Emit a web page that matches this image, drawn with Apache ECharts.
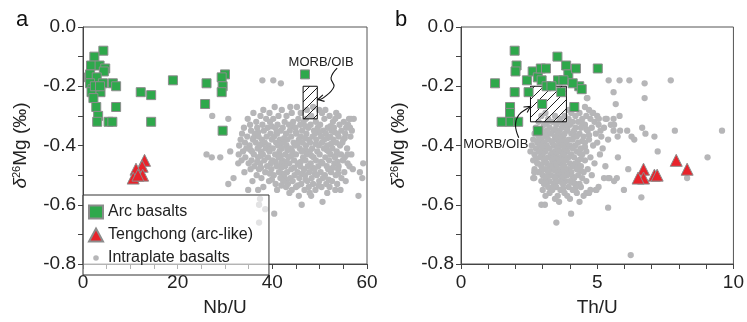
<!DOCTYPE html>
<html>
<head>
<meta charset="utf-8">
<script src="https://cdn.jsdelivr.net/npm/echarts@6/dist/echarts.min.js"></script>
<style>
  html, body { margin: 0; padding: 0; background: #fff; }
  #chart { width: 747px; height: 322px; }
</style>
</head>
<body>
<div id="chart"></div>
<script>
// ---- panel a: Nb/U vs d26Mg ----
const arcA = [
  [4.3,-0.08],[2.4,-0.10],[1.7,-0.13],[3.5,-0.13],[4.7,-0.14],[4.4,-0.15],[1.3,-0.17],[1.5,-0.16],
  [2.9,-0.17],[1.5,-0.19],[4.2,-0.19],[6.3,-0.19],[7.0,-0.20],[2.0,-0.21],[1.8,-0.22],[3.7,-0.22],
  [2.2,-0.24],[2.8,-0.27],[7.0,-0.27],[3.2,-0.30],[3.0,-0.32],[5.4,-0.32],[6.2,-0.32],[2.5,-0.20],
  [3.6,-0.20],[12.2,-0.22],[14.4,-0.23],[19.0,-0.18],[14.4,-0.32],[26.1,-0.19],[25.8,-0.26],
  [30.0,-0.16],[29.3,-0.17],[29.5,-0.20],[29.3,-0.22],[29.5,-0.35],[46.9,-0.16]
];
const tengA = [[13.0,-0.45],[12.5,-0.47],[11.2,-0.48],[12.6,-0.50],[10.6,-0.51],[11.6,-0.50]];
// rows of intraplate basalts: [d26Mg, [Nb/U values]]
const intraRowsA = [
  [-0.27,[40.5,43.8,45.2,48.6]],
  [-0.28,[38.1,42.0,47.3,49.9,51.2]],
  [-0.29,[36.0,39.4,44.1,46.0,50.5,53.5]],
  [-0.30,[37.5,41.3,43.0,48.2,52.1,54.0]],
  [-0.31,[34.8,38.7,40.2,45.5,47.1,51.0,53.3,56.2,57.2]],
  [-0.32,[36.6,39.5,42.6,44.4,46.6,49.2,52.8,55.1]],
  [-0.33,[35.3,37.9,41.1,43.5,45.9,48.1,50.1,54.2,56.0]],
  [-0.335,[39.8,44.3,47.0,52.3]],
  [-0.34,[34.0,36.8,39.0,40.6,42.2,44.9,47.6,49.6,51.7,53.0,55.6]],
  [-0.35,[35.5,38.2,41.8,43.7,46.3,48.8,50.8,52.5,54.6,56.8]],
  [-0.355,[37.0,40.9,45.0,49.9,53.1]],
  [-0.36,[33.6,36.3,39.6,41.0,42.9,45.1,47.2,49.0,51.3,53.8,55.4]],
  [-0.37,[34.7,37.1,38.8,40.4,44.0,46.0,48.5,50.3,52.2,54.0,56.5]],
  [-0.375,[36.0,42.5,46.9,51.7,55.3]],
  [-0.38,[33.3,35.9,37.8,39.9,41.6,43.2,45.6,47.7,49.3,51.0,52.9,55.0]],
  [-0.39,[34.2,36.5,38.4,40.8,42.4,44.5,46.4,48.0,50.5,53.5,54.8]],
  [-0.395,[37.8,41.7,45.3,49.2,52.4]],
  [-0.40,[33.0,35.2,37.3,39.2,41.2,43.0,44.8,47.1,49.8,51.6,54.3]],
  [-0.41,[34.5,36.9,38.6,40.1,42.0,43.9,45.8,48.4,50.9,52.7,55.8]],
  [-0.415,[35.4,39.3,43.2,47.0,51.5]],
  [-0.42,[33.8,35.7,37.6,39.4,41.5,44.2,46.2,47.9,49.5,51.9,53.6]],
  [-0.43,[32.9,36.1,38.0,40.6,42.8,45.0,47.3,50.0,52.3,54.5,56.7]],
  [-0.435,[37.5,41.8,44.0,48.3,53.4]],
  [-0.44,[34.3,37.0,39.1,41.3,43.4,46.5,48.7,51.2,53.2,55.3]],
  [-0.45,[33.5,35.6,38.3,40.0,42.1,44.6,47.0,49.2,52.0,54.9]],
  [-0.455,[36.8,40.7,43.0,46.0,50.3,53.8]],
  [-0.46,[35.0,37.4,39.7,41.9,43.6,45.4,48.1,50.6,53.1,55.9]],
  [-0.47,[36.2,38.9,40.9,42.7,45.9,47.5,49.7,51.5,54.0,56.3]],
  [-0.475,[37.6,41.9,44.6,48.5,52.8]],
  [-0.48,[35.4,37.2,39.8,44.0,46.7,48.9,51.8,53.9,57.0]],
  [-0.49,[34.1,38.5,41.4,43.1,45.3,47.8,50.2,52.4,55.2]],
  [-0.495,[39.5,42.0,46.3,49.0,53.9]],
  [-0.50,[36.7,40.3,42.5,44.7,46.9,49.4,51.1,53.4]],
  [-0.51,[37.7,41.7,43.8,45.7,48.3,50.7,54.6]],
  [-0.515,[39.9,42.9,47.0,51.9]],
  [-0.52,[35.8,39.3,42.3,44.3,47.4,49.9,52.6,55.5]],
  [-0.53,[40.7,43.3,46.1,48.6,51.4,53.7]],
  [-0.535,[41.9,45.4,49.8]],
  [-0.54,[38.1,42.9,45.0,47.7,50.4,52.1]],
  [-0.55,[41.0,44.1,46.8,49.1,53.3,54.4]],
  [-0.56,[43.6,47.9,51.6]],
  [-0.57,[45.6,48.2]],
  [-0.59,[50.6]]
];
const intraExtraA = [
  [37.9,-0.18],[40.2,-0.18],[41.8,-0.19],[27.3,-0.30],[30.7,-0.31],[26.1,-0.43],[27.2,-0.44],
  [29.0,-0.44],[31.1,-0.42],[30.7,-0.53],[31.8,-0.51],[32.8,-0.46],[34.9,-0.55],[37.0,-0.55],
  [37.4,-0.58],[37.2,-0.60],[38.5,-0.615],[40.4,-0.63],[37.2,-0.66],[46.2,-0.60],[58.2,-0.57],
  [58.5,-0.49],[59.0,-0.51],[59.2,-0.46],[55.9,-0.43],[56.4,-0.34],[56.6,-0.31]
];
const morbA = [[46.5,-0.20],[49.5,-0.31]];

// ---- panel b: Th/U vs d26Mg ----
const arcB = [
  [1.97,-0.08],[1.25,-0.19],[2.04,-0.13],[2.00,-0.15],[1.97,-0.22],[1.80,-0.27],[1.80,-0.29],
  [1.49,-0.32],[1.82,-0.32],[2.10,-0.32],[2.82,-0.35],[2.42,-0.18],[2.63,-0.15],[2.82,-0.17],
  [2.93,-0.14],[3.12,-0.14],[2.96,-0.18],[2.48,-0.22],[2.98,-0.26],[3.54,-0.10],[3.56,-0.18],
  [3.86,-0.13],[3.94,-0.16],[4.22,-0.14],[4.34,-0.20],[4.43,-0.21],[4.16,-0.27],[5.02,-0.14],
  [3.76,-0.18],[3.14,-0.20],[4.10,-0.19],[3.68,-0.22],[3.32,-0.20]
];
const tengB = [[6.7,-0.48],[6.7,-0.51],[6.5,-0.51],[7.1,-0.50],[7.2,-0.50],[7.9,-0.45],[8.3,-0.48]];
const intraRowsB = [
  [-0.24,[4.62]],
  [-0.27,[4.55]],
  [-0.28,[3.95,4.70]],
  [-0.29,[3.10,4.05,4.35,4.85]],
  [-0.30,[2.95,3.45,3.80,4.20,4.60,5.00]],
  [-0.31,[3.20,3.65,3.95,4.45,4.75,5.35]],
  [-0.32,[2.85,3.35,3.60,4.10,4.30,4.90]],
  [-0.325,[3.15,3.75,4.45]],
  [-0.33,[3.05,3.50,3.85,4.00,4.55,5.05,5.50]],
  [-0.34,[2.75,3.25,3.70,4.20,4.40,4.80,5.25]],
  [-0.345,[2.95,3.45,3.90,4.60]],
  [-0.35,[2.90,3.15,3.40,3.60,3.90,4.15,4.65,5.60]],
  [-0.36,[2.70,3.00,3.30,3.55,3.80,4.05,4.35,4.95]],
  [-0.365,[3.15,3.65,4.15,4.70]],
  [-0.37,[2.85,3.10,3.45,3.75,4.25,4.50,5.15,5.75]],
  [-0.38,[2.65,2.95,3.20,3.50,3.65,3.95,4.10,4.70,5.40]],
  [-0.385,[2.85,3.35,3.80,4.45]],
  [-0.39,[2.80,3.05,3.35,3.60,3.85,4.30,4.55,5.00]],
  [-0.40,[2.60,2.90,3.15,3.40,3.70,4.00,4.20,4.85]],
  [-0.405,[3.05,3.55,3.90,4.55]],
  [-0.41,[2.75,3.00,3.25,3.55,3.80,4.10,4.40,5.20]],
  [-0.42,[2.55,2.85,3.10,3.45,3.65,3.90,4.25,4.60]],
  [-0.425,[2.95,3.35,3.80,4.35]],
  [-0.43,[2.70,3.00,3.30,3.50,3.75,4.05,4.45,5.10]],
  [-0.44,[2.90,3.20,3.40,3.60,3.95,4.15,4.75]],
  [-0.445,[2.75,3.10,3.50,3.80,4.40]],
  [-0.45,[2.65,3.05,3.35,3.70,3.85,4.30,4.55]],
  [-0.46,[2.80,3.15,3.45,3.60,4.00,4.20,4.90]],
  [-0.465,[2.95,3.35,3.75,4.30]],
  [-0.47,[2.95,3.25,3.50,3.80,4.10,4.40,5.30]],
  [-0.48,[2.70,3.10,3.35,3.65,3.95,4.25,4.65]],
  [-0.485,[2.95,3.45,3.85,4.40]],
  [-0.49,[2.85,3.20,3.55,3.75,4.05,4.50]],
  [-0.50,[3.00,3.30,3.60,3.90,4.30,4.80]],
  [-0.505,[3.15,3.45,3.75,4.10]],
  [-0.51,[2.65,3.10,3.45,3.70,4.15,4.45,5.25,5.45]],
  [-0.52,[2.95,3.25,3.55,3.85,4.00,4.60]],
  [-0.525,[3.10,3.45,3.70,4.10]],
  [-0.53,[3.05,3.40,3.75,4.20,4.35]],
  [-0.54,[3.20,3.50,3.95,4.40,5.05]],
  [-0.545,[3.35,3.75,4.20]],
  [-0.55,[3.00,3.35,3.65,4.10,4.75,4.95]],
  [-0.56,[3.25,3.80,4.25,4.60]],
  [-0.57,[3.10,3.55,3.90,4.50]],
  [-0.58,[3.45,4.00]],
  [-0.59,[3.60,4.35]],
  [-0.60,[2.95,3.08]]
];
const intraExtraB = [
  [5.42,-0.18],[5.82,-0.18],[6.18,-0.18],[6.74,-0.19],[7.70,-0.18],[5.60,-0.22],[6.74,-0.24],
  [5.68,-0.26],[4.64,-0.24],[5.82,-0.30],[5.30,-0.31],[5.60,-0.31],[5.06,-0.31],[4.82,-0.29],
  [5.12,-0.35],[5.62,-0.33],[5.84,-0.35],[6.10,-0.35],[6.26,-0.37],[6.36,-0.38],[6.65,-0.34],
  [6.77,-0.36],[7.10,-0.37],[7.85,-0.35],[9.58,-0.35],[7.22,-0.42],[9.05,-0.44],[5.76,-0.44],
  [6.14,-0.48],[5.40,-0.51],[5.72,-0.51],[5.62,-0.52],[5.98,-0.55],[6.62,-0.575],[5.40,-0.61],
  [8.30,-0.51],[6.23,-0.77],[4.04,-0.63],[3.50,-0.66],[4.97,-0.55],[4.70,-0.56],[2.69,-0.49],
  [2.69,-0.51],[2.82,-0.46],[2.88,-0.42]
];
const morbB = [[2.55,-0.20],[3.87,-0.32]];

// tick labels
const yTicks = [0, -0.2, -0.4, -0.6, -0.8];
const xTicksA = [0, 20, 40, 60];
const xTicksB = [0, 5, 10];

// annotation anchors (data coords)
const labelA = [50.3, -0.119];
const curveA = [[53.7,-0.139],[52.4,-0.172],[53.0,-0.202],[50.6,-0.241]];
const tipA = [49.6, -0.245];
const labelB = [1.28, -0.396];
const curveB = [[2.12,-0.374],[2.0,-0.33],[2.12,-0.297],[2.45,-0.274]];
const tipB = [2.55, -0.268];

function flatten(rows, extra) {
  const out = [];
  rows.forEach(r => r[1].forEach(x => out.push([x, r[0]])));
  return out.concat(extra);
}
const intraA = flatten(intraRowsA, intraExtraA);
const intraB = flatten(intraRowsB, intraExtraB);

function hatch() {
  const c = document.createElement('canvas');
  c.width = 9; c.height = 9;
  const g = c.getContext('2d');
  g.strokeStyle = '#222';
  g.lineWidth = 1;
  g.beginPath();
  g.moveTo(0, 9); g.lineTo(9, 0);
  g.moveTo(-1, 1); g.lineTo(1, -1);
  g.moveTo(8, 10); g.lineTo(10, 8);
  g.stroke();
  return c;
}
const hatchFill = { image: hatch(), repeat: 'repeat' };

const font = 'Arial, "Liberation Sans", sans-serif';
const green = '#2ea84b';
const red = '#e8232b';
const grey = '#b6b6b8';
const edge = '#8c8c8c';

function near(list, v) {
  return list.some(t => Math.abs(t - v) < 1e-6);
}

function yAxisOf(idx) {
  return {
    gridIndex: idx, type: 'value', min: -0.8, max: 0, interval: 0.1,
    name: '{i|δ}{s|26}Mg (‰)', nameLocation: 'middle', nameGap: 52, nameRotate: 90,
    nameTextStyle: {
      fontSize: 19, color: '#222', fontFamily: font,
      rich: {
        i: { fontSize: 19, fontStyle: 'italic', fontFamily: font, color: '#222' },
        s: { fontSize: 11, fontFamily: font, color: '#222', padding: [0, 0, 9, 0] }
      }
    },
    axisLine: { show: true, onZero: false, lineStyle: { color: '#444', width: 1 } },
    axisTick: { show: true, length: 5, lineStyle: { color: '#444' } },
    axisLabel: {
      fontSize: 19, color: '#222', fontFamily: font, margin: 7,
      formatter: v => near(yTicks, v) ? v.toFixed(1) : ''
    },
    splitLine: { show: false }
  };
}

function xAxisOf(idx, max, interval, ticks, name) {
  return {
    gridIndex: idx, type: 'value', min: 0, max: max, interval: interval,
    name: name, nameLocation: 'middle', nameGap: 34,
    nameTextStyle: { fontSize: 19, color: '#222', fontFamily: font },
    axisLine: { show: true, onZero: false, lineStyle: { color: '#444', width: 1 } },
    axisTick: { show: true, length: 5, lineStyle: { color: '#444' } },
    axisLabel: {
      fontSize: 19, color: '#222', fontFamily: font, margin: 9,
      formatter: v => near(ticks, v) ? String(Math.round(v)) : ''
    },
    splitLine: { show: false }
  };
}

const greyDot = "image://data:image/svg+xml;utf8," + encodeURIComponent(
  "<svg xmlns='http://www.w3.org/2000/svg' width='14' height='14'><circle cx='7' cy='7' r='3' fill='" + grey + "'/></svg>");

function seriesFor(idx, arc, teng, intra, morb) {
  return [
    {
      name: 'Intraplate basalts', type: 'scatter', xAxisIndex: idx, yAxisIndex: idx, z: 2,
      symbol: 'circle', symbolSize: 6.3, data: intra,
      itemStyle: { color: grey, opacity: 1 }
    },
    {
      name: 'morb', type: 'scatter', xAxisIndex: idx, yAxisIndex: idx, z: 3, data: [],
      markArea: {
        silent: true, z: 3,
        itemStyle: { color: hatchFill, borderColor: '#111', borderWidth: 1, opacity: 1 },
        data: [[{ coord: morb[0] }, { coord: morb[1] }]]
      }
    },
    {
      name: 'Tengchong (arc-like)', type: 'scatter', xAxisIndex: idx, yAxisIndex: idx, z: 4,
      symbol: 'triangle', symbolSize: 12, data: teng,
      itemStyle: { color: red, borderColor: edge, borderWidth: 1, opacity: 1 }
    },
    {
      name: 'Arc basalts', type: 'scatter', xAxisIndex: idx, yAxisIndex: idx, z: 5,
      symbol: 'rect', symbolSize: 9, data: arc,
      itemStyle: { color: green, borderColor: edge, borderWidth: 1, opacity: 1 }
    }
  ];
}

const chart = echarts.init(document.getElementById('chart'), null, { renderer: 'canvas' });

chart.setOption({
  animation: false,
  backgroundColor: '#fff',
  title: [
    { text: 'a', left: 11, top: 4, textStyle: { fontSize: 22, fontWeight: 'normal', color: '#111', fontFamily: font } },
    { text: 'b', left: 390, top: 4, textStyle: { fontSize: 22, fontWeight: 'normal', color: '#111', fontFamily: font } }
  ],
  grid: [
    { left: 83, top: 27, width: 284, height: 242, show: true, borderColor: '#555', borderWidth: 1, backgroundColor: 'transparent' },
    { left: 461, top: 27, width: 278, height: 242, show: true, borderColor: '#555', borderWidth: 1, backgroundColor: 'transparent' }
  ],
  xAxis: [
    xAxisOf(0, 60, 5, xTicksA, 'Nb/U'),
    xAxisOf(1, 10, 1, xTicksB, 'Th/U')
  ],
  yAxis: [yAxisOf(0), yAxisOf(1)],
  legend: {
    left: 83, top: 195, orient: 'vertical',
    padding: [9, 16, 9, 5], itemGap: 7, itemWidth: 14, itemHeight: 13,
    backgroundColor: 'rgba(255,255,255,0.6)', borderColor: '#333', borderWidth: 1, borderRadius: 0,
    textStyle: { fontSize: 16, color: '#222', fontFamily: font },
    selectedMode: false,
    data: [
      { name: 'Arc basalts', icon: 'rect' },
      { name: 'Tengchong (arc-like)', icon: 'triangle' },
      { name: 'Intraplate basalts', icon: greyDot }
    ]
  },
  series: seriesFor(0, arcA, tengA, intraA, morbA).concat(seriesFor(1, arcB, tengB, intraB, morbB))
});

// curved arrows + MORB/OIB labels, anchored in data space
function arrow(idx, label, curve, tip) {
  const p = v => chart.convertToPixel({ gridIndex: idx }, v);
  const pts = curve.map(p);
  const t = p(tip);
  const last = pts[pts.length - 1];
  const ang = Math.atan2(t[1] - last[1], t[0] - last[0]);
  const L = 7, w = 0.5;
  const h1 = [t[0] - L * Math.cos(ang - w), t[1] - L * Math.sin(ang - w)];
  const h2 = [t[0] - L * Math.cos(ang + w), t[1] - L * Math.sin(ang + w)];
  const lp = p(label);
  return [
    { type: 'polyline', silent: true, z: 10, shape: { points: pts.concat([t]), smooth: 0.45 },
      style: { stroke: '#111', lineWidth: 1.1, fill: null } },
    { type: 'polyline', silent: true, z: 10, shape: { points: [h1, t, h2] },
      style: { stroke: '#111', lineWidth: 1.1, fill: null } },
    { type: 'text', silent: true, z: 10, x: lp[0], y: lp[1],
      style: { text: 'MORB/OIB', fontSize: 13, fontFamily: font, fill: '#222', align: 'center', verticalAlign: 'middle' } }
  ];
}

chart.setOption({
  graphic: arrow(0, labelA, curveA, tipA).concat(arrow(1, labelB, curveB, tipB))
});
</script>
</body>
</html>
